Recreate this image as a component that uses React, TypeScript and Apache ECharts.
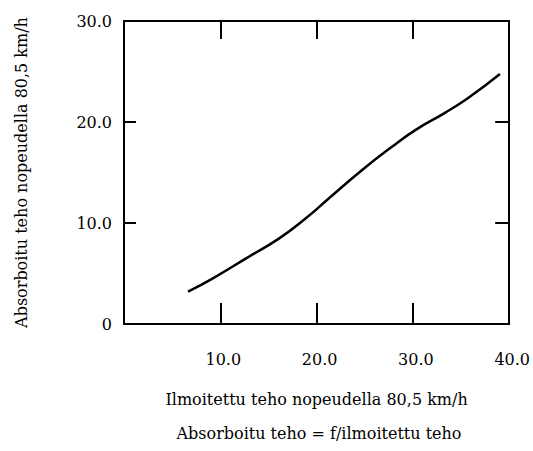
import React, { useEffect, useRef } from "react";
import * as echarts from "echarts";

const xValues = [6.65, 9.23, 12.68, 16.12, 18.88, 21.29, 24.73, 27.83, 30.25, 33.24, 35.7, 39.04];
const yValues = [3.2, 4.52, 6.5, 8.48, 10.47, 12.45, 15.25, 17.55, 19.2, 20.86, 22.35, 24.75];
const xTitle = "Ilmoitettu teho nopeudella 80,5 km/h";
const yTitle = "Absorboitu teho nopeudella 80,5 km/h";
const footnote = "Absorboitu teho = f/ilmoitettu teho";

const FONT = "DejaVu Serif";
const FS = 16;

export default function App() {
  const ref = useRef<HTMLDivElement>(null);
  useEffect(() => {
    if (!ref.current) return;
    const chart = echarts.init(ref.current, undefined, { renderer: "svg" });
    const line = { show: true, onZero: false, lineStyle: { color: "#000", width: 2 } };
    const labelStyle = { color: "#000", fontFamily: FONT, fontSize: FS };
    chart.setOption({
      animation: false,
      backgroundColor: "#fff",
      grid: { left: 124, top: 21, width: 387, height: 303 },
      xAxis: [
        {
          type: "value",
          min: 0,
          max: 40,
          interval: 10,
          position: "bottom",
          axisLine: line,
          splitLine: { show: false },
          axisTick: { show: true, inside: true, length: 21, lineStyle: { color: "#000", width: 2 } },
          axisLabel: {
            ...labelStyle,
            margin: 27,
            padding: [0, 0, 0, 6],
            formatter: (v: number) => (v > 0 ? v.toFixed(1) : ""),
          },
          name: xTitle,
          nameLocation: "middle",
          nameGap: 67,
          nameTextStyle: { ...labelStyle },
        },
        {
          type: "value",
          min: 0,
          max: 40,
          interval: 10,
          position: "top",
          axisLine: line,
          splitLine: { show: false },
          axisTick: { show: true, inside: true, length: 18, lineStyle: { color: "#000", width: 2 } },
          axisLabel: { show: false },
        },
      ],
      yAxis: [
        {
          type: "value",
          min: 0,
          max: 30,
          interval: 10,
          position: "left",
          axisLine: line,
          splitLine: { show: false },
          axisTick: { show: true, inside: true, length: 12, lineStyle: { color: "#000", width: 2 } },
          axisLabel: {
            ...labelStyle,
            margin: 12,
            padding: [0, 0, 10, 0],
            formatter: (v: number) => (v === 0 ? "0" : v.toFixed(1)),
          },
          name: yTitle,
          nameLocation: "middle",
          nameGap: 95,
          nameTextStyle: { ...labelStyle },
        },
        {
          type: "value",
          min: 0,
          max: 30,
          interval: 10,
          position: "right",
          axisLine: line,
          splitLine: { show: false },
          axisTick: { show: true, inside: true, length: 14, lineStyle: { color: "#000", width: 2 } },
          axisLabel: { show: false },
        },
      ],
      graphic: [
        {
          type: "text",
          x: 319,
          y: 425,
          style: { text: footnote, fill: "#000", font: `${FS}px "${FONT}"`, textAlign: "center" },
        },
      ],
      series: [
        {
          type: "line",
          data: xValues.map((x, i) => [x, yValues[i]]),
          smooth: 0.5,
          symbol: "none",
          lineStyle: { color: "#000", width: 2.5 },
        },
      ],
    });
    return () => chart.dispose();
  }, []);
  return (
    <div
      ref={ref}
      style={{ position: "fixed", left: 0, top: 0, width: 533, height: 451 }}
    />
  );
}
